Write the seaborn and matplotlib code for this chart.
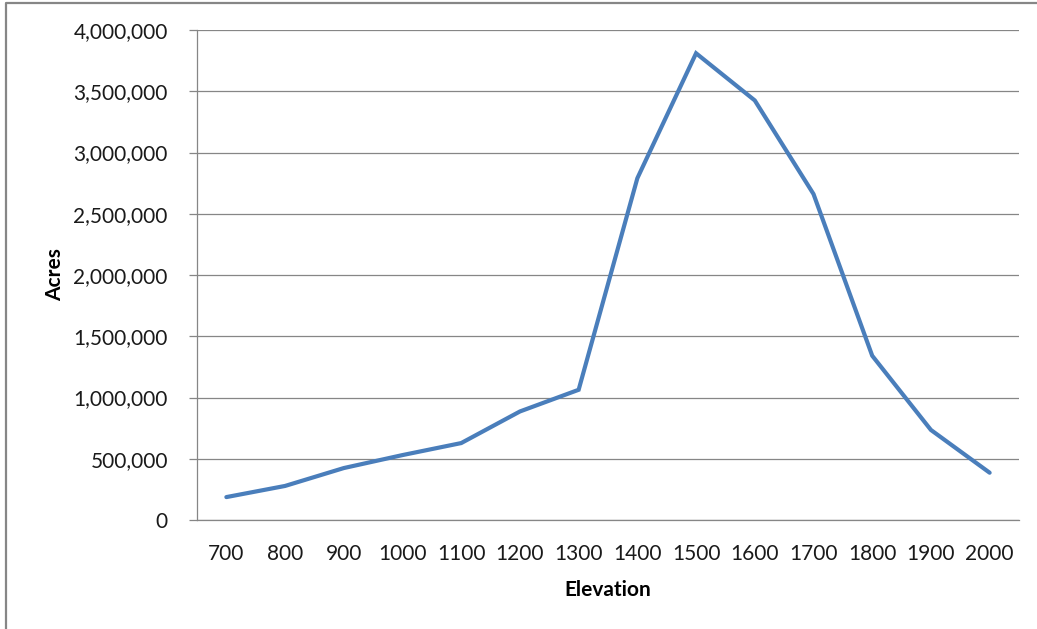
import matplotlib
matplotlib.use("Agg")
import matplotlib.pyplot as plt
from matplotlib.lines import Line2D
from matplotlib.ticker import FuncFormatter, FixedLocator
import seaborn as sns
import pandas as pd

# elevation bands and acreage
elevation = ['700', '800', '900', '1000', '1100', '1200', '1300',
             '1400', '1500', '1600', '1700', '1800', '1900', '2000']
acres = [187000, 278000, 424000, 530000, 628000, 886000, 1063000,
         2790000, 3810000, 3425000, 2661000, 1341000, 735000, 386000]
y_ticks = [0, 500000, 1000000, 1500000, 2000000, 2500000, 3000000, 3500000, 4000000]

df = pd.DataFrame({'Elevation': elevation, 'Acres': acres})

sns.set_theme(style='white')
plt.rcParams['font.family'] = ['Lato', 'DejaVu Sans']

grey = '#868686'
fig = plt.figure(figsize=(10.37, 6.29), dpi=100)
ax = fig.add_axes([197 / 1037, 1 - 520 / 629, (1019 - 197) / 1037, (520 - 30) / 629])

sns.lineplot(data=df, x='Elevation', y='Acres', ax=ax, color='#4A7EBB',
             linewidth=3.0, sort=False, solid_joinstyle='miter')

ax.set_xlim(-0.5, len(elevation) - 0.5)
ax.set_ylim(0, 4000000)
ax.set_yticks(y_ticks)
ax.yaxis.set_major_formatter(FuncFormatter(lambda v, p: f'{int(v):,}'))
ax.yaxis.grid(True, color=grey, linewidth=0.9)
ax.set_axisbelow(True)

ax.set_xticks(range(len(elevation)))
ax.set_xticklabels(elevation)
ax.xaxis.set_minor_locator(FixedLocator([i - 0.5 for i in range(len(elevation) + 1)]))
ax.tick_params(axis='x', which='major', length=0, pad=17, labelsize=15, colors='#1a1a1a')
ax.tick_params(axis='x', which='minor', length=6, width=0.9, color=grey, direction='out')
ax.tick_params(axis='y', length=6, width=0.9, color=grey, pad=15, labelsize=15,
               labelcolor='#1a1a1a', left=True)

for s in ['top', 'right']:
    ax.spines[s].set_visible(False)
for s in ['left', 'bottom']:
    ax.spines[s].set_color(grey)
    ax.spines[s].set_linewidth(0.9)

ax.set_xlabel('Elevation', fontsize=15, fontweight='bold', labelpad=12, color='black')
ax.set_ylabel('Acres', fontsize=15, fontweight='bold', labelpad=6, color='black')

# outer chart frame (cut off on the right and bottom)
fig.add_artist(Line2D([6 / 1037, 6 / 1037, 1.0], [0.0, 1 - 3 / 629, 1 - 3 / 629],
                      transform=fig.transFigure, color=grey, linewidth=1.6))

fig.savefig('out.png', dpi=100)
